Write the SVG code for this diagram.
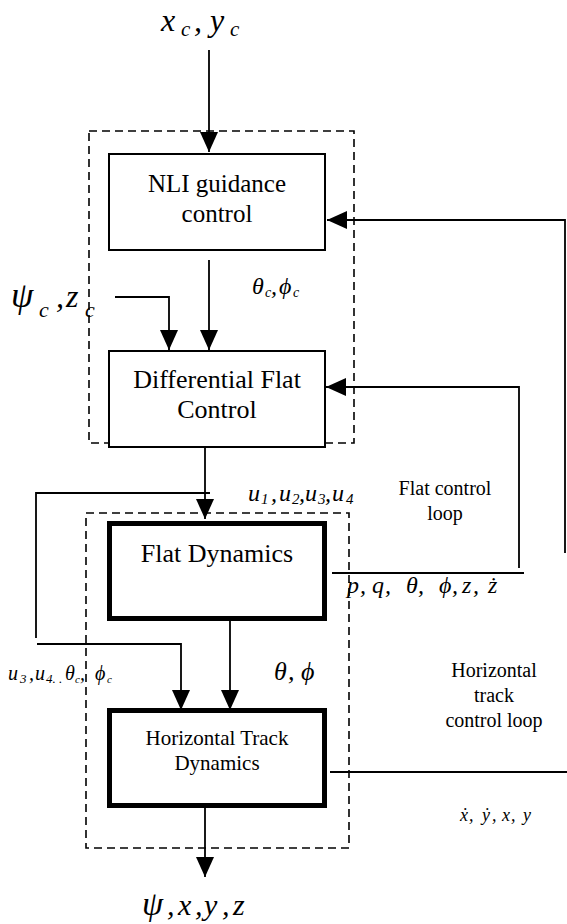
<svg xmlns="http://www.w3.org/2000/svg" width="567" height="924" viewBox="0 0 567 924" font-family="'Liberation Serif', 'Times New Roman', serif">
<style>
.box{fill:#fff;stroke:#000;stroke-width:2}
.thick{fill:#fff;stroke:#000;stroke-width:5}
.dash{fill:none;stroke:#000;stroke-width:1.6;stroke-dasharray:8 5}
.ln{fill:none;stroke:#000;stroke-width:1.8}
.ah{marker-end:url(#arr)}
.t{fill:#000;text-anchor:middle}
.i{font-style:italic;fill:#000}
</style>
<defs>
<marker id="arr" viewBox="0 0 20 18" markerWidth="20" markerHeight="18" refX="20" refY="9" orient="auto" markerUnits="userSpaceOnUse">
<path d="M0,0 L20,9 L0,18 z" fill="#000"/>
</marker>
</defs>
<rect width="567" height="924" fill="#fff"/>
<g id="groups">
<rect class="dash" x="89" y="131" width="265" height="312"/>
<rect class="dash" x="86" y="513" width="263" height="335"/>
</g>
<g id="nli">
<rect class="box" x="109" y="154" width="216" height="96"/>
<text class="t" x="217" y="192" font-size="25">NLI guidance</text>
<text class="t" x="217" y="222" font-size="25">control</text>
</g>
<g id="diff">
<rect class="box" x="109" y="351" width="216" height="96"/>
<text class="t" x="217" y="388" font-size="26">Differential Flat</text>
<text class="t" x="217" y="418" font-size="26">Control</text>
</g>
<g id="flat">
<rect class="thick" x="109.5" y="523.5" width="215" height="95"/>
<text class="t" x="217" y="562" font-size="26">Flat Dynamics</text>
</g>
<g id="ht">
<rect class="thick" x="109.5" y="710.5" width="215" height="95"/>
<text class="t" x="217" y="745" font-size="21">Horizontal Track</text>
<text class="t" x="217" y="770" font-size="21">Dynamics</text>
</g>
<g id="connectors">
<line class="ln ah" x1="209" y1="50" x2="209" y2="152"/>
<line class="ln ah" x1="209" y1="260" x2="209" y2="350"/>
<polyline class="ln ah" points="115,297 169,297 169,350"/>
<polyline class="ln ah" points="565,553 565,220 327,220"/>
<polyline class="ln ah" points="519,568 519,387 326,387"/>
<line class="ln" x1="332" y1="573" x2="524" y2="573"/>
<line class="ln ah" x1="205" y1="447" x2="205" y2="519"/>
<polyline class="ln" points="210,493 36,493 36,638"/>
<polyline class="ln ah" points="37,644 181,644 181,710"/>
<line class="ln ah" x1="230" y1="621" x2="230" y2="710"/>
<line class="ln" x1="330" y1="772" x2="567" y2="772"/>
<line class="ln ah" x1="205" y1="808" x2="205" y2="877"/>
</g>
<g id="labels">
<text class="i" y="31" font-size="32"><tspan x="161">x</tspan><tspan x="181" y="36" font-size="21">c</tspan><tspan x="194" y="31">,</tspan><tspan x="210">y</tspan><tspan x="230" y="36" font-size="21">c</tspan></text>
<text class="i" y="307" font-size="36"><tspan x="11">ψ</tspan><tspan x="39" y="317" font-size="22">c</tspan><tspan x="56" y="307" font-size="32">,</tspan><tspan x="66" font-size="32">z</tspan><tspan x="85" y="317" font-size="22">c</tspan></text>
<text class="i" y="294" font-size="24"><tspan x="252">θ</tspan><tspan x="265" y="297" font-size="14">c</tspan><tspan x="271" y="294">,</tspan><tspan x="279">ϕ</tspan><tspan x="293" y="297" font-size="14">c</tspan></text>
<text class="i" y="501" font-size="24"><tspan x="248">u</tspan><tspan x="261" y="504" font-size="15">1</tspan><tspan x="271" y="501">,</tspan><tspan x="279">u</tspan><tspan x="292" y="504" font-size="15">2</tspan><tspan x="299" y="501">,</tspan><tspan x="305">u</tspan><tspan x="318" y="504" font-size="15">3</tspan><tspan x="325" y="501">,</tspan><tspan x="332">u</tspan><tspan x="346" y="504" font-size="15">4</tspan></text>
<text class="t" x="445" y="495" font-size="20">Flat control</text>
<text class="t" x="445" y="520" font-size="20">loop</text>
<text class="i" y="593" font-size="24"><tspan x="347">p</tspan><tspan x="360">,</tspan><tspan x="372">q</tspan><tspan x="385">,</tspan><tspan x="406">θ</tspan><tspan x="418">,</tspan><tspan x="439">ϕ</tspan><tspan x="452">,</tspan><tspan x="462">z</tspan><tspan x="473">,</tspan><tspan x="488">ż</tspan></text>
<text class="i" y="680" font-size="20"><tspan x="8">u</tspan><tspan x="20" y="683" font-size="13">3</tspan><tspan x="29" y="680">,</tspan><tspan x="35">u</tspan><tspan x="46" y="683" font-size="13">4. .</tspan><tspan x="65" y="680">θ</tspan><tspan x="75" y="683" font-size="11">c</tspan><tspan x="80" y="680">,</tspan><tspan x="95">ϕ</tspan><tspan x="107" y="683" font-size="11">c</tspan></text>
<text class="i" y="680" font-size="26"><tspan x="274">θ</tspan><tspan x="288">,</tspan><tspan x="301">ϕ</tspan></text>
<text class="t" x="494" y="677" font-size="20">Horizontal</text>
<text class="t" x="494" y="702" font-size="20">track</text>
<text class="t" x="494" y="727" font-size="20">control loop</text>
<text class="i" y="821" font-size="18"><tspan x="460">ẋ</tspan><tspan x="469">,</tspan><tspan x="482">ẏ</tspan><tspan x="492">,</tspan><tspan x="502">x</tspan><tspan x="511">,</tspan><tspan x="523">y</tspan></text>
<text class="i" y="915" font-size="30"><tspan x="142" font-size="34">ψ</tspan><tspan x="167">,</tspan><tspan x="178">x</tspan><tspan x="195">,</tspan><tspan x="204">y</tspan><tspan x="222">,</tspan><tspan x="233">z</tspan></text>
</g>
</svg>
